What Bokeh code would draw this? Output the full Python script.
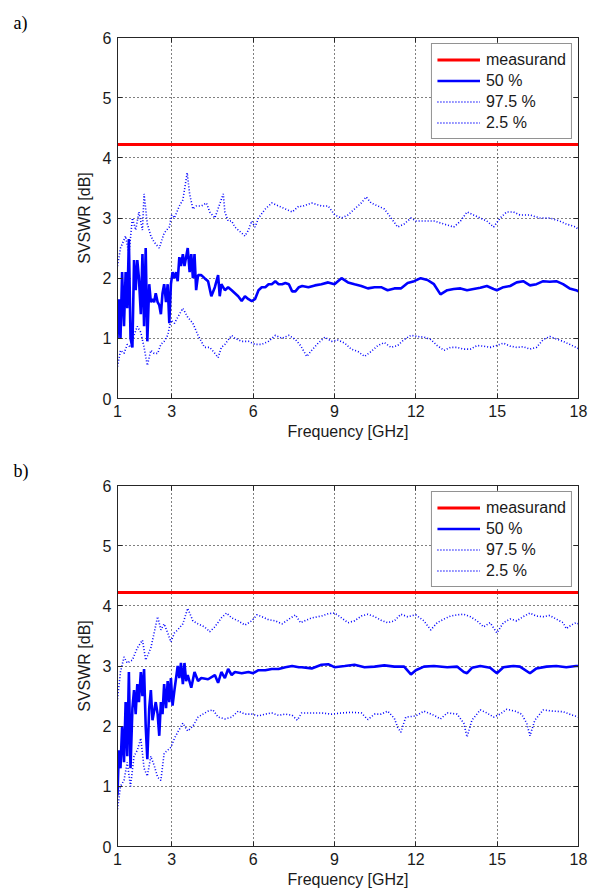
from bokeh.plotting import figure
from bokeh.models import Range1d, FixedTicker, LinearAxis, Legend, LegendItem
from bokeh.layouts import column
from bokeh.embed import file_html
from bokeh.resources import INLINE

FREQ_TICKS = [1, 3, 6, 9, 12, 15, 18]
SVSWR_TICKS = [0, 1, 2, 3, 4, 5, 6]

MEAS_F = [1.0, 18.0]
MEAS_A = [4.22, 4.22]
MEAS_B = [4.22, 4.22]

# ---------------- panel a) ----------------
A50 = [(1.00, 1.00), (1.05, 1.65), (1.11, 1.00), (1.17, 2.10), (1.24, 1.20), (1.30, 2.10), (1.36, 1.50),
       (1.42, 2.65), (1.48, 1.00), (1.55, 0.85), (1.61, 2.30), (1.67, 1.80), (1.73, 2.30), (1.79, 2.00),
       (1.86, 1.40), (1.92, 2.40), (1.98, 1.20), (2.04, 2.50), (2.10, 0.95), (2.17, 1.90), (2.23, 1.60),
       (2.29, 1.65), (2.35, 1.60), (2.41, 1.75), (2.48, 1.60), (2.54, 1.55), (2.60, 1.40), (2.66, 1.75),
       (2.72, 1.90), (2.79, 1.60), (2.85, 1.90), (2.91, 1.25), (2.97, 1.90), (3.03, 2.10), (3.10, 2.00),
       (3.16, 2.10), (3.22, 1.95), (3.28, 2.35), (3.34, 2.20), (3.41, 2.40), (3.47, 2.20), (3.53, 2.35),
       (3.59, 2.50), (3.66, 2.10), (3.72, 2.40), (3.78, 2.00), (3.84, 2.40), (3.90, 1.80), (3.97, 2.05),
       (4.09, 2.05), (4.21, 2.00), (4.34, 1.95), (4.46, 1.70), (4.59, 1.85), (4.71, 2.05), (4.77, 1.70),
       (4.83, 1.90), (4.96, 1.80), (5.08, 1.85), (5.21, 1.80), (5.33, 1.75), (5.45, 1.70), (5.58, 1.62),
       (5.70, 1.70), (5.83, 1.65), (5.95, 1.62), (6.07, 1.65), (6.20, 1.80), (6.32, 1.85), (6.45, 1.85),
       (6.57, 1.90), (6.69, 1.90), (6.82, 1.95), (6.94, 1.90), (7.07, 1.90), (7.19, 1.92), (7.32, 1.90),
       (7.44, 1.78), (7.56, 1.78), (7.69, 1.85), (7.81, 1.87), (8.04, 1.85), (8.28, 1.88), (8.52, 1.90),
       (8.77, 1.93), (9.00, 1.90), (9.26, 2.00), (9.50, 1.93), (9.74, 1.90), (9.99, 1.87), (10.23, 1.83),
       (10.48, 1.85), (10.72, 1.85), (10.96, 1.80), (11.21, 1.83), (11.45, 1.83), (11.70, 1.92),
       (11.94, 1.95), (12.18, 2.00), (12.43, 1.97), (12.67, 1.90), (12.91, 1.73), (13.16, 1.80),
       (13.40, 1.82), (13.65, 1.83), (13.89, 1.80), (14.13, 1.82), (14.38, 1.84), (14.62, 1.87),
       (14.87, 1.82), (14.99, 1.80), (15.23, 1.85), (15.48, 1.87), (15.72, 1.93), (15.96, 1.95),
       (16.21, 1.88), (16.45, 1.90), (16.70, 1.95), (16.94, 1.94), (17.18, 1.95), (17.43, 1.90),
       (17.67, 1.83), (17.91, 1.80), (18.00, 1.78)]

A975 = [(1.00, 2.20), (1.11, 2.50), (1.30, 2.70), (1.42, 2.40), (1.55, 3.00), (1.67, 2.80), (1.79, 3.10),
        (1.92, 2.80), (1.98, 3.40), (2.10, 2.90), (2.23, 2.70), (2.35, 2.60), (2.54, 2.50), (2.72, 2.75),
        (2.91, 2.85), (3.00, 3.05), (3.10, 3.00), (3.28, 3.20), (3.41, 3.30), (3.57, 3.75), (3.66, 3.40),
        (3.78, 3.15), (3.90, 3.20), (4.09, 3.20), (4.28, 3.25), (4.40, 3.10), (4.59, 3.00), (4.90, 3.40),
        (4.96, 3.10), (5.08, 2.95), (5.21, 2.95), (5.33, 2.85), (5.45, 2.80), (5.58, 2.75), (5.70, 2.70),
        (5.83, 2.80), (5.95, 2.95), (6.07, 2.85), (6.20, 3.00), (6.45, 3.15), (6.69, 3.25), (6.94, 3.20),
        (7.19, 3.15), (7.44, 3.10), (7.69, 3.20), (7.79, 3.19), (8.16, 3.25), (8.52, 3.20), (8.77, 3.20),
        (9.01, 3.05), (9.26, 3.00), (9.50, 3.05), (9.74, 3.15), (9.99, 3.25), (10.17, 3.35), (10.35, 3.25),
        (10.60, 3.20), (10.84, 3.15), (11.09, 3.00), (11.33, 2.85), (11.57, 2.90), (11.82, 3.00),
        (12.00, 2.95), (12.30, 2.95), (12.67, 2.95), (13.04, 2.90), (13.40, 2.85), (13.65, 2.95),
        (13.89, 3.10), (14.13, 3.05), (14.38, 3.00), (14.62, 2.95), (14.87, 2.85), (15.11, 3.00),
        (15.35, 3.10), (15.60, 3.10), (15.84, 3.05), (16.21, 3.05), (16.57, 3.00), (16.94, 3.00),
        (17.30, 2.95), (17.55, 2.90), (17.91, 2.85), (18.00, 2.80)]

A25 = [(1.00, 0.53), (1.11, 0.80), (1.24, 0.75), (1.36, 0.90), (1.48, 0.85), (1.61, 1.05), (1.73, 1.20),
       (1.86, 1.10), (1.98, 0.85), (2.10, 0.55), (2.23, 0.80), (2.35, 0.75), (2.48, 0.75), (2.60, 0.90),
       (2.72, 0.95), (2.85, 1.05), (2.97, 1.30), (3.10, 1.25), (3.22, 1.35), (3.41, 1.50), (3.59, 1.35),
       (3.78, 1.25), (3.97, 1.05), (4.09, 0.95), (4.21, 0.85), (4.40, 0.85), (4.59, 0.75), (4.71, 0.68),
       (4.83, 0.85), (4.96, 0.90), (5.21, 1.05), (5.33, 1.00), (5.58, 0.95), (5.83, 0.95), (6.07, 0.90),
       (6.32, 0.90), (6.57, 0.95), (6.82, 1.05), (7.07, 1.00), (7.32, 1.05), (7.56, 0.98), (7.75, 0.88),
       (7.98, 0.70), (8.16, 0.80), (8.40, 0.92), (8.65, 1.02), (8.89, 0.95), (9.13, 0.97), (9.38, 0.92),
       (9.62, 0.82), (9.87, 0.78), (10.11, 0.70), (10.35, 0.78), (10.60, 0.88), (10.84, 0.93),
       (11.09, 0.85), (11.33, 0.88), (11.57, 0.98), (11.82, 1.05), (12.06, 1.03), (12.30, 1.02),
       (12.55, 0.98), (12.79, 0.88), (13.04, 0.80), (13.28, 0.85), (13.52, 0.85), (13.77, 0.82),
       (14.01, 0.82), (14.26, 0.88), (14.50, 0.87), (14.74, 0.85), (14.99, 0.88), (15.23, 0.92),
       (15.48, 0.87), (15.72, 0.85), (15.96, 0.86), (16.21, 0.82), (16.45, 0.85), (16.70, 0.98),
       (16.94, 1.03), (17.18, 0.99), (17.43, 0.95), (17.67, 0.90), (17.91, 0.85), (18.00, 0.83)]

# ---------------- panel b) ----------------
B50 = [(1.00, 0.85), (1.05, 1.60), (1.11, 1.30), (1.17, 2.00), (1.24, 1.40), (1.30, 2.40), (1.36, 1.50),
       (1.42, 2.90), (1.48, 1.30), (1.55, 2.30), (1.61, 2.60), (1.67, 2.20), (1.73, 2.70), (1.79, 2.40),
       (1.86, 2.90), (1.92, 2.50), (1.98, 2.95), (2.04, 2.00), (2.10, 1.45), (2.17, 2.30), (2.23, 2.60),
       (2.29, 2.10), (2.35, 2.25), (2.41, 2.40), (2.48, 2.20), (2.54, 1.84), (2.60, 2.40), (2.66, 2.20),
       (2.72, 2.70), (2.79, 2.30), (2.85, 2.75), (2.91, 2.40), (2.97, 2.80), (3.03, 2.34), (3.10, 2.60),
       (3.16, 2.80), (3.22, 3.00), (3.28, 2.80), (3.34, 3.05), (3.41, 2.70), (3.47, 3.05), (3.53, 2.75),
       (3.59, 2.85), (3.72, 2.64), (3.84, 2.90), (3.97, 2.75), (4.09, 2.80), (4.34, 2.78), (4.59, 2.85),
       (4.71, 2.72), (4.83, 2.90), (4.96, 2.80), (5.08, 2.95), (5.21, 2.85), (5.33, 2.90), (5.58, 2.88),
       (5.83, 2.90), (6.00, 2.88), (6.20, 2.93), (6.45, 2.93), (6.69, 2.95), (6.94, 2.95), (7.19, 2.98),
       (7.44, 3.00), (7.69, 2.98), (7.79, 2.98), (8.16, 2.96), (8.52, 3.02), (8.77, 3.03), (9.00, 2.98),
       (9.38, 3.00), (9.74, 3.02), (10.11, 2.98), (10.48, 2.99), (10.84, 3.01), (11.21, 2.99),
       (11.57, 2.99), (11.82, 2.86), (12.00, 2.93), (12.30, 2.99), (12.67, 3.00), (13.16, 2.98),
       (13.52, 2.99), (13.77, 2.90), (13.89, 2.88), (14.07, 2.97), (14.38, 3.00), (14.74, 2.97),
       (14.99, 2.88), (15.23, 2.98), (15.60, 3.00), (15.84, 2.99), (16.21, 2.88), (16.45, 2.96),
       (16.82, 2.99), (17.18, 3.00), (17.55, 2.98), (17.91, 3.00), (18.00, 3.00)]

B975 = [(1.00, 2.45), (1.11, 2.90), (1.24, 3.15), (1.36, 3.05), (1.55, 3.10), (1.73, 3.30), (1.92, 3.43),
        (2.04, 3.10), (2.23, 3.30), (2.48, 3.82), (2.60, 3.60), (2.72, 3.70), (2.85, 3.55), (2.97, 3.40),
        (3.10, 3.55), (3.22, 3.60), (3.41, 3.70), (3.59, 3.96), (3.78, 3.75), (3.97, 3.70), (4.21, 3.65),
        (4.40, 3.57), (4.59, 3.65), (4.83, 3.80), (5.02, 3.88), (5.21, 3.80), (5.45, 3.75), (5.70, 3.68),
        (5.95, 3.75), (6.14, 3.85), (6.32, 3.82), (6.57, 3.77), (6.82, 3.75), (7.07, 3.70), (7.32, 3.78),
        (7.56, 3.85), (7.75, 3.72), (8.16, 3.80), (8.52, 3.83), (8.77, 3.87), (9.01, 3.88), (9.26, 3.80),
        (9.50, 3.72), (9.74, 3.75), (9.99, 3.83), (10.23, 3.86), (10.48, 3.82), (10.72, 3.76),
        (10.96, 3.72), (11.21, 3.75), (11.45, 3.86), (11.70, 3.82), (12.00, 3.85), (12.30, 3.75),
        (12.55, 3.60), (12.79, 3.72), (13.04, 3.78), (13.28, 3.83), (13.52, 3.85), (13.77, 3.86),
        (14.01, 3.82), (14.26, 3.75), (14.50, 3.65), (14.74, 3.72), (14.99, 3.55), (15.23, 3.72),
        (15.48, 3.78), (15.72, 3.75), (15.96, 3.82), (16.21, 3.88), (16.45, 3.83), (16.70, 3.82),
        (16.94, 3.84), (17.18, 3.78), (17.43, 3.72), (17.55, 3.62), (17.73, 3.68), (17.91, 3.72),
        (18.00, 3.70)]

B25 = [(1.00, 0.62), (1.11, 1.00), (1.24, 1.10), (1.36, 1.40), (1.48, 1.00), (1.61, 1.50), (1.73, 1.60),
       (1.86, 1.80), (1.98, 1.30), (2.10, 1.17), (2.23, 1.50), (2.35, 1.35), (2.48, 1.15), (2.60, 1.10),
       (2.72, 1.55), (2.85, 1.60), (2.97, 1.65), (3.10, 1.80), (3.22, 1.90), (3.41, 2.05), (3.59, 1.92),
       (3.78, 2.00), (3.97, 2.15), (4.15, 2.20), (4.34, 2.25), (4.52, 2.27), (4.71, 2.15), (4.96, 2.12),
       (5.21, 2.15), (5.45, 2.25), (5.70, 2.20), (5.95, 2.20), (6.20, 2.17), (6.45, 2.20), (6.69, 2.22),
       (6.94, 2.18), (7.19, 2.20), (7.44, 2.18), (7.63, 2.10), (7.79, 2.22), (8.16, 2.22), (8.52, 2.22),
       (8.89, 2.20), (9.26, 2.22), (9.62, 2.23), (9.99, 2.22), (10.23, 2.11), (10.48, 2.20),
       (10.72, 2.20), (10.96, 2.25), (11.21, 2.13), (11.33, 1.98), (11.45, 1.90), (11.63, 2.15),
       (12.00, 2.17), (12.30, 2.25), (12.67, 2.18), (12.91, 2.12), (13.16, 2.22), (13.52, 2.20),
       (13.77, 2.05), (13.89, 1.82), (14.07, 2.10), (14.38, 2.27), (14.62, 2.22), (14.87, 2.15),
       (15.11, 2.20), (15.35, 2.28), (15.66, 2.25), (15.90, 2.20), (16.09, 2.05), (16.21, 1.84),
       (16.39, 2.10), (16.70, 2.27), (17.06, 2.25), (17.43, 2.24), (17.79, 2.18), (18.00, 2.15)]

FONT = "Liberation Sans"
AX_COLOR = "#262626"


def unzip(pairs):
    return [a for a, _ in pairs], [b for _, b in pairs]


def make_panel(tag, meas, s50, s975, s25, border_top, border_bottom):
    p = figure(frame_width=461, frame_height=361,
               x_range=Range1d(1, 18), y_range=Range1d(0, 6),
               output_backend="svg", toolbar_location=None,
               min_border_left=117, min_border_right=10,
               min_border_top=border_top, min_border_bottom=border_bottom,
               background_fill_color="white", border_fill_color="white")
    p.outline_line_color = AX_COLOR
    p.outline_line_width = 1

    p.title.text = tag
    p.title.align = "left"
    p.title.vertical_align = "top"
    p.title.offset = -104
    p.title.text_font = "Liberation Serif"
    p.title.text_font_size = "18px"
    p.title.text_font_style = "normal"
    p.title.text_color = "black"
    p.title.standoff = 6

    for ax in (p.xaxis[0], p.yaxis[0]):
        ax.axis_line_color = AX_COLOR
        ax.major_tick_line_color = AX_COLOR
        ax.major_tick_in = 5
        ax.major_tick_out = 0
        ax.minor_tick_line_color = None
        ax.major_label_text_font = FONT
        ax.major_label_text_font_size = "16px"
        ax.major_label_text_color = "#1a1a1a"
        ax.axis_label_text_font = FONT
        ax.axis_label_text_font_size = "16px"
        ax.axis_label_text_font_style = "normal"
        ax.axis_label_text_color = "#1a1a1a"
    p.xaxis[0].ticker = FixedTicker(ticks=FREQ_TICKS)
    p.yaxis[0].ticker = FixedTicker(ticks=SVSWR_TICKS)
    p.xaxis[0].axis_label = "Frequency [GHz]"
    p.yaxis[0].axis_label = "SVSWR [dB]"
    p.xaxis[0].major_label_standoff = 6
    p.xaxis[0].axis_label_standoff = 3
    p.yaxis[0].major_label_standoff = 6
    p.yaxis[0].axis_label_standoff = 7

    right = LinearAxis(ticker=FixedTicker(ticks=SVSWR_TICKS),
                       major_label_overrides={t: "" for t in SVSWR_TICKS})
    top = LinearAxis(ticker=FixedTicker(ticks=FREQ_TICKS),
                     major_label_overrides={t: "" for t in FREQ_TICKS})
    for ax in (right, top):
        ax.axis_line_color = AX_COLOR
        ax.major_tick_line_color = AX_COLOR
        ax.major_tick_in = 5
        ax.major_tick_out = 0
        ax.minor_tick_line_color = None
        ax.major_label_standoff = 0
    p.add_layout(right, "right")
    p.add_layout(top, "above")

    for g in (p.xgrid[0], p.ygrid[0]):
        g.grid_line_color = "black"
        g.grid_line_dash = "1 3"
        g.grid_line_width = 1
    p.xgrid[0].ticker = FixedTicker(ticks=FREQ_TICKS)
    p.ygrid[0].ticker = FixedTicker(ticks=SVSWR_TICKS)

    x50, y50 = unzip(s50)
    x975, y975 = unzip(s975)
    x25, y25 = unzip(s25)

    r975 = p.line(x975, y975, line_color="#0000ff", line_width=1.6, line_dash="1 2")
    r25 = p.line(x25, y25, line_color="#0000ff", line_width=1.6, line_dash="1 2")
    r50 = p.line(x50, y50, line_color="#0000ff", line_width=2.6)
    rm = p.line(MEAS_F, meas, line_color="#ff0000", line_width=3)

    legend = Legend(items=[LegendItem(label="measurand", renderers=[rm]),
                           LegendItem(label="50 %", renderers=[r50]),
                           LegendItem(label="97.5 %", renderers=[r975]),
                           LegendItem(label="2.5 %", renderers=[r25])],
                    location="top_right", margin=6, padding=5, spacing=0,
                    label_height=21, glyph_height=21, glyph_width=43, label_standoff=6,
                    label_text_font=FONT, label_text_font_size="16px", label_text_color="#1a1a1a",
                    border_line_color=AX_COLOR, border_line_width=1,
                    background_fill_color="white", background_fill_alpha=1)
    p.add_layout(legend)
    return p


p1 = make_panel("a)", MEAS_A, A50, A975, A25, 37, 48)
p2 = make_panel("b)", MEAS_B, B50, B975, B25, 39, 44)
layout = column(p1, p2, spacing=0)

open("out.html", "w").write(file_html(layout, INLINE))
